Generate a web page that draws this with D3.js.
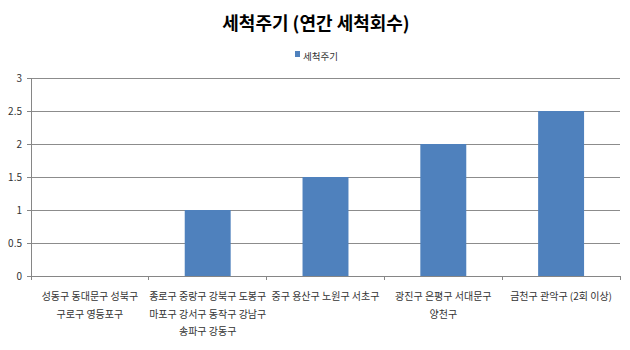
<!DOCTYPE html>
<html>
<head>
<meta charset="utf-8">
<script src="https://cdn.jsdelivr.net/npm/d3@7"></script>
<style>
  html, body { margin: 0; padding: 0; background: #fff; }
  svg { display: block; font-family: "Noto Sans CJK KR", "Noto Sans", sans-serif; }
</style>
</head>
<body>
<svg id="chart" width="630" height="350"></svg>
<script>
// Districts grouped by annual washing frequency
const categories = [
  ["성동구 동대문구 성북구", "구로구 영등포구"],
  ["종로구 중랑구 강북구 도봉구", "마포구 강서구 동작구 강남구", "송파구 강동구"],
  ["중구 용산구 노원구 서초구"],
  ["광진구 은평구 서대문구", "양천구"],
  ["금천구 관악구 (2회 이상)"]
];
const values = [0, 1, 1.5, 2, 2.5];
const yTicks = [0, 0.5, 1, 1.5, 2, 2.5, 3];
const seriesName = "세척주기";
const title = "세척주기 (연간 세척회수)";

const svg = d3.select("#chart");
const margin = { left: 31, right: 10, top: 78, bottom: 74 };
const W = 630, H = 350;

const x = d3.scaleBand()
  .domain(d3.range(categories.length))
  .range([margin.left, W - margin.right])
  .paddingInner(0.61)
  .paddingOuter(0.305);
const xBounds = d3.scaleLinear()
  .domain([0, categories.length])
  .range([margin.left, W - margin.right]);
const y = d3.scaleLinear().domain([0, 3]).range([H - margin.bottom, margin.top]);

// Title
svg.append("text")
  .attr("x", 316).attr("y", 30)
  .attr("text-anchor", "middle")
  .attr("font-size", 18).attr("font-weight", "bold")
  .attr("fill", "#000")
  .text(title);

// Legend
svg.append("rect").attr("x", 295).attr("y", 51).attr("width", 5).attr("height", 6).attr("fill", "#4f81bd");
svg.append("text").attr("x", 303).attr("y", 60)
  .attr("font-size", 9.5).attr("fill", "#333").text(seriesName);

// Gridlines
svg.append("g").selectAll("line").data(yTicks.filter(d => d > 0)).join("line")
  .attr("x1", margin.left).attr("x2", W - margin.right)
  .attr("y1", d => y(d)).attr("y2", d => y(d))
  .attr("stroke", "#8c8c8c").attr("stroke-width", 1).attr("shape-rendering", "crispEdges");

// Y axis
const yAxis = svg.append("g").attr("transform", `translate(${margin.left},0)`)
  .call(d3.axisLeft(y).tickValues(yTicks).tickSize(4).tickPadding(5).tickFormat(d3.format("")));
yAxis.selectAll("path, line").attr("stroke", "#868686").attr("shape-rendering", "crispEdges");
yAxis.selectAll("text").attr("font-size", 10).attr("fill", "#333").attr("font-family", "\"Noto Sans CJK KR\", sans-serif");

// Bars
svg.append("g").selectAll("rect").data(values).join("rect")
  .attr("x", (d, i) => x(i))
  .attr("width", x.bandwidth())
  .attr("y", d => y(d))
  .attr("height", d => y(0) - y(d))
  .attr("fill", "#4f81bd");

// X axis line and category boundary ticks
const xg = svg.append("g");
xg.append("line")
  .attr("x1", margin.left).attr("x2", W - margin.right)
  .attr("y1", y(0)).attr("y2", y(0))
  .attr("stroke", "#868686").attr("shape-rendering", "crispEdges");
xg.selectAll("line.tick").data(d3.range(categories.length + 1)).join("line")
  .attr("class", "tick")
  .attr("x1", d => xBounds(d)).attr("x2", d => xBounds(d))
  .attr("y1", y(0)).attr("y2", y(0) + 4)
  .attr("stroke", "#868686").attr("shape-rendering", "crispEdges");

// Category labels (multi-line)
const labels = svg.append("g").selectAll("text").data(categories).join("text")
  .attr("x", (d, i) => x(i) + x.bandwidth() / 2)
  .attr("y", y(0) + 24)
  .attr("text-anchor", "middle")
  .attr("font-size", 10).attr("fill", "#333");
labels.selectAll("tspan").data(d => d).join("tspan")
  .attr("x", function () { return d3.select(this.parentNode).attr("x"); })
  .attr("dy", (d, i) => i === 0 ? 0 : 17.5)
  .text(d => d);
</script>
</body>
</html>
